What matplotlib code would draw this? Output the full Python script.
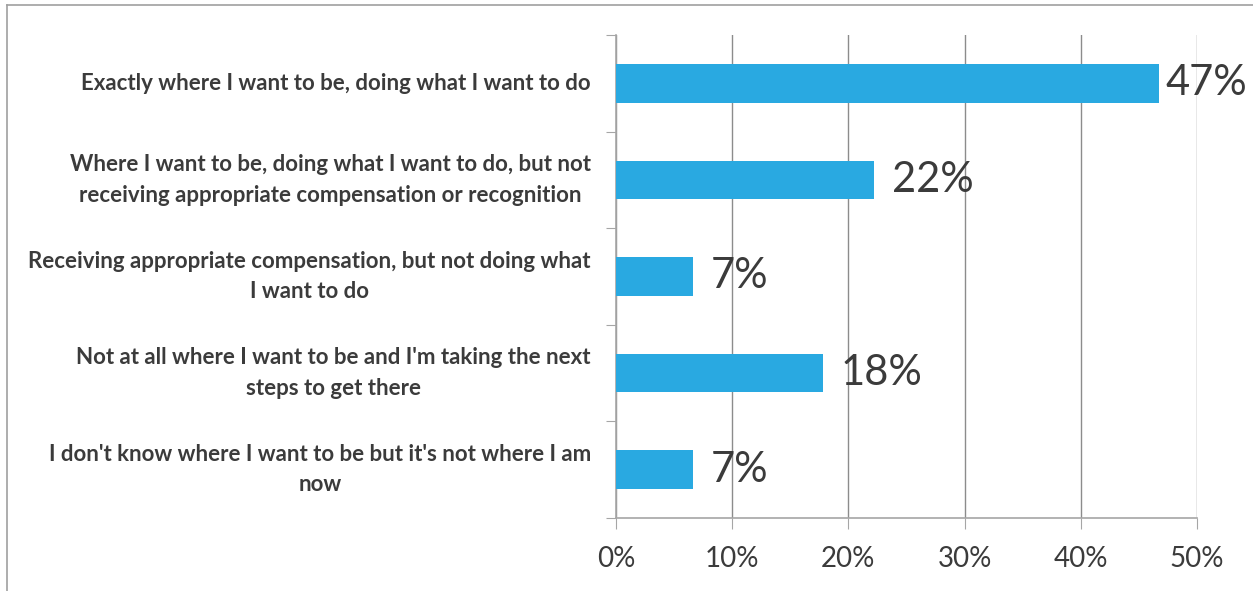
import matplotlib

matplotlib.use("Agg")
import matplotlib.pyplot as plt
from matplotlib.lines import Line2D

# Survey answers, top to bottom as drawn
CATEGORIES = [
    "Exactly where I want to be, doing what I want to do",
    "Where I want to be, doing what I want to do, but not\nreceiving appropriate compensation or recognition",
    "Receiving appropriate compensation, but not doing what\nI want to do",
    "Not at all where I want to be and I'm taking the next\nsteps to get there",
    "I don't know where I want to be but it's not where I am\nnow",
]
VALUES = [46.7, 22.2, 6.6, 17.8, 6.6]
VALUE_LABELS = ["47%", "22%", "7%", "18%", "7%"]
X_TICKS = [0, 10, 20, 30, 40, 50]
X_TICK_LABELS = ["0%", "10%", "20%", "30%", "40%", "50%"]

BAR_COLOR = "#29a9e1"
TEXT_COLOR = "#3b3b3b"
AXIS_GRAY = "#a6a6a6"
GRID_GRAY = "#8c8c8c"

# label gap after bar end (data units), and the furthest right a label may start
LABEL_GAP = 1.55
LABEL_MAX_X = 47.3

plt.rcParams["font.family"] = ["Lato", "DejaVu Sans"]

fig = plt.figure(figsize=(12.53, 5.91), dpi=100)
ax = fig.add_axes([0.4916, 0.1235, 0.4637, 0.8173])

ypos = list(range(len(CATEGORIES)))
ax.barh(ypos, VALUES, height=0.4, color=BAR_COLOR, zorder=3)
ax.set_ylim(len(CATEGORIES) - 0.5, -0.5)
ax.set_xlim(0, 50)

for y, v, lab in zip(ypos, VALUES, VALUE_LABELS):
    x = min(v + LABEL_GAP, max(v + 0.5, LABEL_MAX_X))
    ax.text(x, y, lab, ha="left", va="center", fontsize=30, color=TEXT_COLOR, zorder=4)

ax.set_xticks(X_TICKS)
ax.set_xticklabels(X_TICK_LABELS, fontsize=20, color=TEXT_COLOR)
ax.set_yticks([y - 0.5 for y in ypos] + [len(CATEGORIES) - 0.5])
ax.set_yticklabels([])
ax.set_yticks(ypos, minor=True)
ax.set_yticklabels(CATEGORIES, minor=True, fontsize=16, fontweight="bold",
                   color=TEXT_COLOR, multialignment="center", linespacing=1.55,
                   va="center")

ax.tick_params(axis="x", length=8, color=AXIS_GRAY, pad=12)
ax.tick_params(axis="y", which="major", length=7, color=AXIS_GRAY)
ax.tick_params(axis="y", which="minor", length=0, pad=18)

ax.grid(axis="x", color=GRID_GRAY, linewidth=1, zorder=0)
for side in ["top", "right"]:
    ax.spines[side].set_visible(False)
for side in ["left", "bottom"]:
    ax.spines[side].set_color(AXIS_GRAY)
    ax.spines[side].set_linewidth(1.2)

# Outer chart-area frame (top and left edges show in the crop)
fig.add_artist(Line2D([0.0056, 1.0], [0.9915, 0.9915], color="#a0a0a0", linewidth=1.2))
fig.add_artist(Line2D([0.0056, 0.0056], [0.0, 0.9915], color="#a0a0a0", linewidth=1.2))

fig.savefig("out.png", dpi=100)
